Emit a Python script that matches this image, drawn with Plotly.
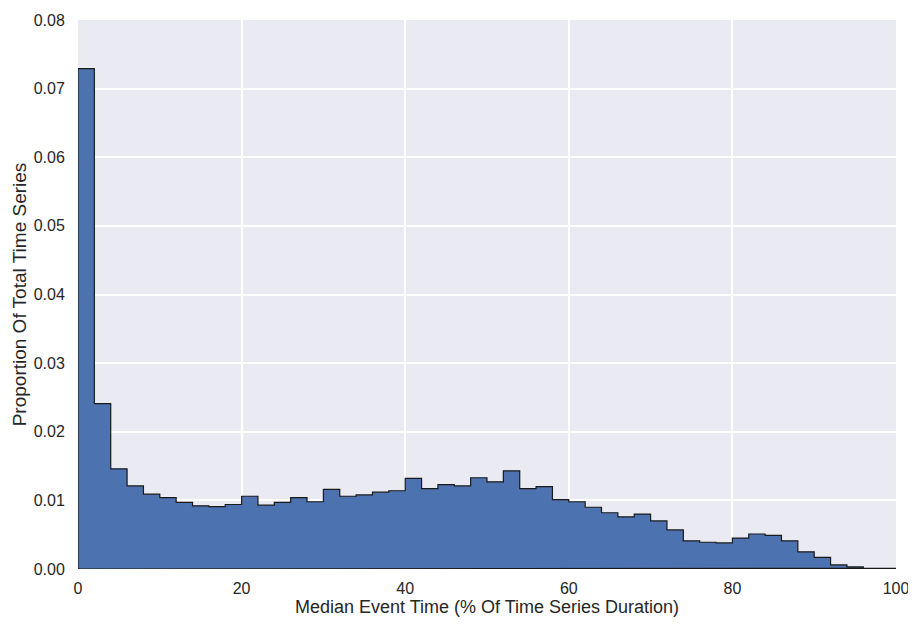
import plotly.graph_objects as go

bin_edges = [i * 2 for i in range(51)]
proportions = [
    0.0729, 0.0241, 0.0146, 0.0121, 0.0109, 0.0104, 0.0097, 0.0092, 0.0091, 0.0094,
    0.0106, 0.0093, 0.0097, 0.0104, 0.0098, 0.0116, 0.0106, 0.0108, 0.0112, 0.0114,
    0.0132, 0.0117, 0.0123, 0.0121, 0.0133, 0.0127, 0.0143, 0.0117, 0.0120, 0.0101,
    0.0098, 0.0090, 0.0082, 0.0076, 0.0080, 0.0070, 0.0057, 0.0041, 0.0039, 0.0038,
    0.0045, 0.0051, 0.0049, 0.0041, 0.0025, 0.0017, 0.0006, 0.0003, 0.0001, 0.0001,
]
x_ticks = [0, 20, 40, 60, 80, 100]
y_ticks = [0.00, 0.01, 0.02, 0.03, 0.04, 0.05, 0.06, 0.07, 0.08]

# Build the step-filled outline (matplotlib histtype='stepfilled')
xs = [bin_edges[0]]
ys = [0]
for i, v in enumerate(proportions):
    xs += [bin_edges[i], bin_edges[i + 1]]
    ys += [v, v]
xs += [bin_edges[-1], bin_edges[0]]
ys += [0, 0]

fig = go.Figure()
fig.add_trace(go.Scatter(
    x=xs, y=ys, mode="lines", fill="toself",
    fillcolor="#4C72B0",
    line=dict(color="#1a1a1a", width=1.2),
    hoverinfo="skip", showlegend=False,
))

font_family = "Liberation Sans, Arial, sans-serif"
fig.update_layout(
    width=908, height=617,
    margin=dict(l=70, r=20, t=12, b=56, autoexpand=False),
    paper_bgcolor="white",
    plot_bgcolor="#EAEAF2",
    font=dict(family=font_family, size=16, color="#262626"),
    xaxis=dict(
        range=[0, 100], tickvals=x_ticks, ticktext=[str(t) for t in x_ticks],
        showgrid=True, gridcolor="white", gridwidth=1.5,
        zeroline=False, showline=False, ticks="",
        ticklabelstandoff=8, automargin=False,
        title=dict(text="Median Event Time (% Of Time Series Duration)",
                   font=dict(size=18, color="#262626"), standoff=2),
        tickfont=dict(size=16, color="#262626"),
    ),
    yaxis=dict(
        range=[0, 0.08], tickvals=y_ticks, ticktext=[f"{t:.2f}" for t in y_ticks],
        showgrid=True, gridcolor="white", gridwidth=1.5,
        zeroline=False, showline=False,
        ticks="outside", ticklen=5, tickcolor="white",
        ticklabelstandoff=4, automargin=False,
        title=dict(text="Proportion Of Total Time Series",
                   font=dict(size=19, color="#262626"), standoff=2),
        tickfont=dict(size=16, color="#262626"),
    ),
)

fig.write_html("out.html")
